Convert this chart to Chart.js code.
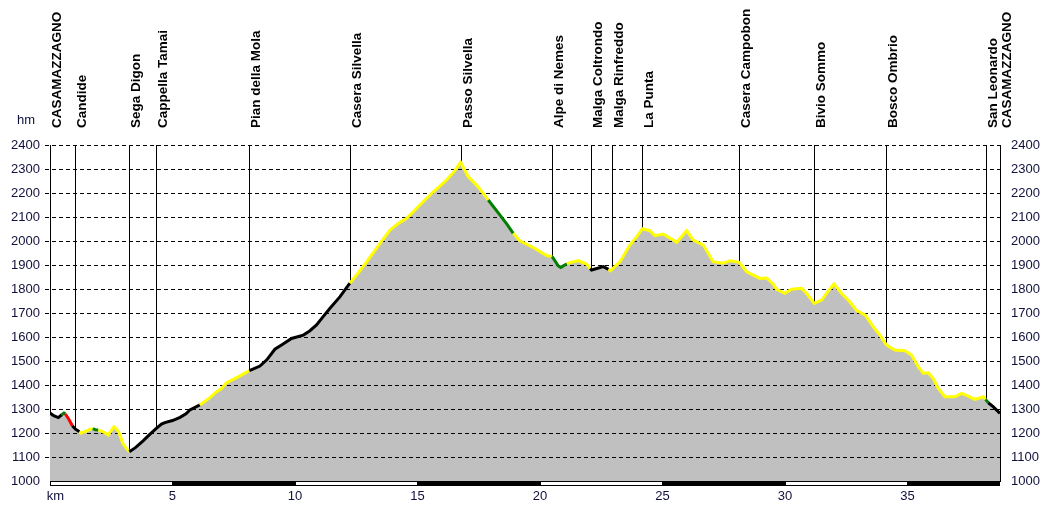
<!DOCTYPE html>
<html>
<head>
<meta charset="utf-8">
<script src="https://cdn.jsdelivr.net/npm/chart.js@4/dist/chart.umd.min.js"></script>
<style>
  body { margin: 0; background: #fff; }
  #wrap { width: 1050px; height: 505px; }
</style>
</head>
<body>
<div id="wrap"><canvas id="profile"></canvas></div>
<script>
// profilo altimetrico: distanza (km) e quota (m)
const km = [
  0.0, 0.15, 0.34, 0.48, 0.57, 0.63, 0.78, 0.91, 1.03, 1.2, 1.27, 1.4, 1.56, 1.75, 1.85, 1.97,
  2.1, 2.25, 2.38, 2.5, 2.61, 2.7, 2.8, 2.97, 3.1, 3.24, 3.5, 3.81, 4.05, 4.34, 4.55, 4.69,
  5.0, 5.31, 5.55, 5.71, 6.12, 6.5, 6.8, 7.0, 7.21, 7.7, 8.14, 8.57, 8.85, 9.18, 9.5, 9.86,
  10.34, 10.6, 10.88, 11.15, 11.43, 11.84, 12.24, 12.6, 12.93, 13.4, 13.88, 14.2, 14.56, 15.1,
  15.65, 16.19, 16.5, 16.76, 17.07, 17.41, 17.6, 17.89, 18.37, 18.65, 18.91, 19.18, 19.8, 20.0,
  20.27, 20.5, 20.75, 20.85, 21.1, 21.22, 21.56, 21.9, 22.05, 22.11, 22.59, 22.8, 22.88, 23.27,
  23.67, 23.95, 24.18, 24.49, 24.69, 25.03, 25.44, 25.58, 25.99, 26.26, 26.67, 27.07, 27.48,
  27.76, 28.13, 28.44, 28.98, 29.25, 29.52, 29.66, 30.0, 30.27, 30.68, 30.88, 31.2, 31.5, 31.7,
  32.0, 32.31, 32.65, 32.93, 33.27, 33.6, 33.88, 34.14, 34.49, 34.9, 35.17, 35.44, 35.65, 35.85,
  36.05, 36.26, 36.53, 36.94, 37.21, 37.48, 37.76, 38.1, 38.19, 38.3, 38.5, 38.78
];
const elev = [
  1283, 1272, 1264, 1276, 1283, 1279, 1255, 1230, 1217, 1205, 1199, 1205, 1212, 1219, 1213, 1212,
  1208, 1200, 1192, 1210, 1226, 1218, 1205, 1157, 1138, 1122, 1140, 1168, 1192, 1219, 1237, 1243,
  1252, 1265, 1280, 1296, 1317, 1345, 1372, 1385, 1410, 1435, 1460, 1479, 1505, 1549, 1570, 1594,
  1608, 1625, 1650, 1685, 1720, 1768, 1824, 1870, 1914, 1980, 2046, 2072, 2095, 2150,
  2205, 2254, 2290, 2328, 2268, 2233, 2210, 2171, 2108, 2070, 2032, 2001, 1969, 1956,
  1939, 1935, 1896, 1890, 1905, 1910, 1918, 1904, 1885, 1879, 1893, 1882, 1876, 1914,
  1983, 2018, 2051, 2043, 2022, 2029, 2004, 1995, 2043, 2004, 1983, 1914, 1907,
  1918, 1911, 1872, 1844, 1846, 1821, 1799, 1782, 1799, 1803, 1782, 1740, 1754, 1782,
  1821, 1782, 1747, 1710, 1692, 1643, 1608, 1567, 1546, 1543, 1525, 1476, 1449, 1451,
  1428, 1386, 1351, 1351, 1365, 1354, 1340, 1351, 1340, 1326, 1310, 1282
];

// colore del tratto a partire dal km indicato
const gradeFrom = [0, 0.48, 0.63, 0.91, 1.2, 1.75, 1.97, 3.24, 6.12, 8.14, 12.24, 17.89, 18.91, 20.5, 21.1, 22.05, 22.8, 38.19, 38.3];
const gradeColour = ['#000000', '#008000', '#ff0000', '#000000', '#ffff00', '#008000', '#ffff00', '#000000', '#ffff00',
  '#000000', '#ffff00', '#008000', '#ffff00', '#008000', '#ffff00', '#000000', '#ffff00', '#008000', '#000000'];

// punti di passaggio
const waypointNames = ['CASAMAZZAGNO', 'Candide', 'Sega Digon', 'Cappella Tamai', 'Pian della Mola', 'Casera Silvella',
  'Passo Silvella', 'Alpe di Nemes', 'Malga Coltrondo', 'Malga Rinfreddo', 'La Punta', 'Casera Campobon',
  'Bivio Sommo', 'Bosco Ombrio', 'San Leonardo', 'CASAMAZZAGNO'];
const waypointKm = [0, 1.03, 3.24, 4.34, 8.14, 12.24, 16.76, 20.5, 22.1, 22.93, 24.18, 28.13, 31.2, 34.14, 38.19, 38.78];

const kmMax = 38.78;
const labelColour = '#10103c';
const tickFont = { family: '"Liberation Sans", Arial, sans-serif', size: 13 };

function colourAt(d) {
  let c = gradeColour[0];
  for (let i = 0; i < gradeFrom.length; i++) {
    if (d >= gradeFrom[i] - 1e-6) c = gradeColour[i];
  }
  return c;
}

function elevAt(d) {
  for (let i = 1; i < km.length; i++) {
    if (d <= km[i]) {
      const t = (d - km[i - 1]) / (km[i] - km[i - 1]);
      return elev[i - 1] + t * (elev[i] - elev[i - 1]);
    }
  }
  return elev[elev.length - 1];
}

// griglia tratteggiata e linee verticali sopra il riempimento, nomi, barra km e "hm"
const decorations = {
  id: 'decorations',
  afterDatasetDraw(chart, args) {
    if (args.index !== 1) return; // dopo il riempimento grigio
    const ctx = chart.ctx;
    const xs = chart.scales.x, ys = chart.scales.y;
    const area = chart.chartArea;
    ctx.save();
    ctx.strokeStyle = '#000';
    ctx.lineWidth = 1;
    ctx.setLineDash([4, 3]);
    ys.ticks.forEach(t => {
      if (t.value === ys.min) return;
      const y = Math.round(ys.getPixelForValue(t.value)) + 0.5;
      ctx.beginPath();
      ctx.moveTo(area.left - 5, y);
      ctx.lineTo(area.right, y);
      ctx.stroke();
    });
    ctx.setLineDash([]);
    waypointKm.forEach(d => {
      const x = Math.round(xs.getPixelForValue(d)) + 0.5;
      ctx.beginPath();
      ctx.moveTo(x, area.top);
      ctx.lineTo(x, ys.getPixelForValue(elevAt(d)));
      ctx.stroke();
    });
    ctx.restore();
  },
  afterDraw(chart) {
    const ctx = chart.ctx;
    const xs = chart.scales.x;
    const area = chart.chartArea;
    ctx.save();
    // nomi
    ctx.fillStyle = '#000';
    ctx.font = 'bold 13.5px "Liberation Sans", Arial, sans-serif';
    ctx.textAlign = 'left';
    ctx.textBaseline = 'alphabetic';
    waypointNames.forEach((name, i) => {
      const x = Math.round(xs.getPixelForValue(waypointKm[i]));
      ctx.save();
      ctx.translate(x + 11, 128);
      ctx.rotate(-Math.PI / 2);
      ctx.fillText(name, 0, 0);
      ctx.restore();
    });
    // hm
    ctx.fillStyle = labelColour;
    ctx.font = '13px "Liberation Sans", Arial, sans-serif';
    ctx.textAlign = 'center';
    ctx.textBaseline = 'middle';
    ctx.fillText('hm', 26, 120);
    // barra km
    const yb = Math.round(area.bottom);
    ctx.fillStyle = '#000';
    ctx.fillRect(area.left, yb, area.right - area.left, 5);
    ctx.fillStyle = '#fff';
    for (let d = 0; d < kmMax; d += 10) {
      const x0 = Math.round(xs.getPixelForValue(d));
      const x1 = Math.round(xs.getPixelForValue(Math.min(d + 5, kmMax)));
      ctx.fillRect(x0 + 1, yb + 1, x1 - x0 - 1, 3);
    }
    ctx.restore();
  }
};

const points = km.map((d, i) => ({ x: d, y: elev[i] }));

const profileData = {
  datasets: [
    {
      // linea colorata per pendenza
      data: points,
      order: 1,
      borderColor: '#000',
      borderWidth: 3,
      fill: false,
      pointRadius: 0,
      tension: 0,
      segment: {
        borderColor: c => colourAt(km[c.p0DataIndex])
      }
    },
    {
      // area grigia
      data: points,
      order: 2,
      borderWidth: 0,
      borderColor: 'rgba(0,0,0,0)',
      backgroundColor: '#c0c0c0',
      fill: 'start',
      pointRadius: 0,
      tension: 0
    }
  ]
};

const profileConfig = {
  type: 'line',
  data: profileData,
  options: {
    responsive: true,
    maintainAspectRatio: false,
    animation: false,
    layout: { padding: { top: 145, left: 0, right: 0, bottom: 0 } },
    plugins: {
      legend: { display: false },
      tooltip: { enabled: false },
      filler: { drawTime: 'beforeDatasetDraw' }
    },
    scales: {
      x: {
        type: 'linear',
        min: 0,
        max: kmMax,
        afterFit: s => { s.height = 24; },
        border: { display: false },
        grid: { display: false, drawTicks: false },
        ticks: {
          stepSize: 5,
          includeBounds: false,
          maxRotation: 0,
          padding: 8,
          color: labelColour,
          font: tickFont,
          callback: v => (v === 0 ? '\u00a0\u00a0\u00a0km' : String(v))
        }
      },
      y: {
        position: 'left',
        min: 1000,
        max: 2400,
        afterFit: s => { s.width = 50; },
        border: { display: true, color: '#000', width: 1 },
        grid: { display: false, drawTicks: true, tickLength: 5 },
        ticks: {
          stepSize: 100,
          padding: 5,
          color: labelColour,
          font: tickFont,
          callback: v => String(v)
        }
      },
      y2: {
        position: 'right',
        min: 1000,
        max: 2400,
        afterFit: s => { s.width = 50; },
        border: { display: true, color: '#000', width: 1 },
        grid: { display: false, drawTicks: false },
        ticks: {
          stepSize: 100,
          padding: 11,
          color: labelColour,
          font: tickFont,
          callback: v => String(v)
        }
      }
    }
  },
  plugins: [decorations]
};

const profileChart = new Chart(document.getElementById('profile'), profileConfig);
</script>
</body>
</html>
